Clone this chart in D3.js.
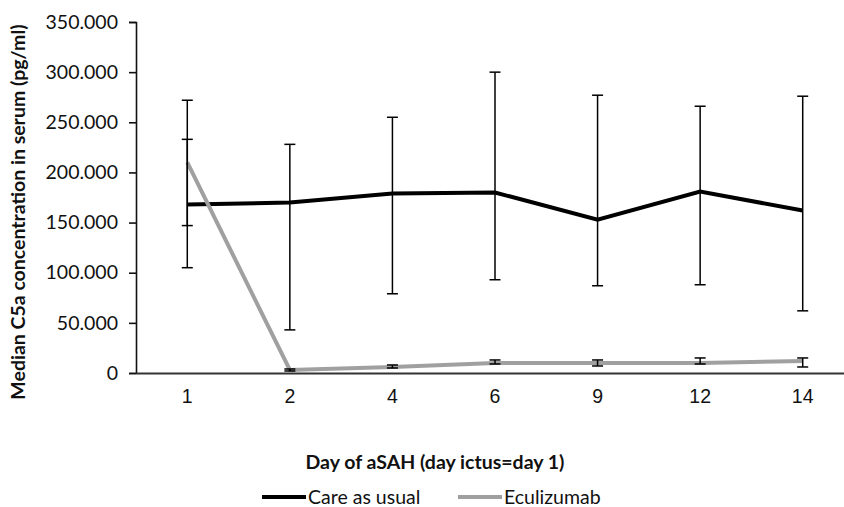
<!DOCTYPE html>
<html>
<head>
<meta charset="utf-8">
<script src="https://cdn.jsdelivr.net/npm/d3@7"></script>
<style>
  body { margin: 0; background: #fff; }
  svg { display: block; font-family: Lato, "Open Sans", sans-serif; }
</style>
</head>
<body>
<div id="chart"></div>
<script>
// data (pg/ml, thousands shown with "." separator)
const days = ["1", "2", "4", "6", "9", "12", "14"];
const careMedian = [168, 170, 179, 180, 153, 181, 162];
const careLow    = [105, 43, 79, 93, 87, 88, 62];
const careHigh   = [272, 228, 255, 300, 277, 266, 276];
const ecuMedian  = [210, 3, 6, 10, 10, 10, 12];
const ecuLow     = [147, 2, 5, 9, 7, 9, 6];
const ecuHigh    = [233, 4, 8, 13, 13, 15, 15];
const yTicks = [0, 50, 100, 150, 200, 250, 300, 350];

const W = 844, H = 507;
const svg = d3.select("#chart").append("svg")
  .attr("width", W).attr("height", H);

const x = d3.scaleBand().domain(days).range([136, 854]).padding(0);
const cx = d => x(d) + x.bandwidth() / 2;
const y = d3.scaleLinear().domain([0, 350]).range([373, 22]);

const fmt = v => v === 0 ? "0" : d3.format(".3f")(v).replace(",", "");

// y axis
const yAxis = svg.append("g")
  .attr("transform", "translate(136,0)")
  .call(d3.axisLeft(y).tickValues(yTicks).tickFormat(fmt).tickSize(7).tickPadding(11));
yAxis.select(".domain").attr("stroke", "#111").attr("stroke-width", 1.6);
yAxis.selectAll(".tick line").attr("stroke", "#111").attr("stroke-width", 1.6);
yAxis.selectAll(".tick text")
  .attr("font-size", 19.5).attr("fill", "#111")
  .attr("font-family", "Lato, sans-serif");

// x axis
const xAxis = svg.append("g")
  .attr("transform", "translate(0,373)")
  .call(d3.axisBottom(x).tickSize(0).tickPadding(16));
xAxis.select(".domain").attr("stroke", "#333").attr("stroke-width", 2);
xAxis.selectAll(".tick text")
  .attr("font-size", 19.5).attr("fill", "#111");

// series
const series = [
  { name: "Care as usual", color: "#000", med: careMedian, lo: careLow, hi: careHigh },
  { name: "Eculizumab", color: "#a0a0a0", med: ecuMedian, lo: ecuLow, hi: ecuHigh }
];

const line = d3.line().x(d => cx(d.day)).y(d => y(d.v));

series.forEach(s => {
  const pts = days.map((d, i) => ({ day: d, v: s.med[i] }));
  svg.append("path")
    .datum(pts)
    .attr("d", line)
    .attr("fill", "none")
    .attr("stroke", s.color)
    .attr("stroke-width", 4)
    .attr("stroke-linejoin", "miter");
});

// error bars (black for both series)
series.forEach(s => {
  const eb = days.map((d, i) => ({ day: d, lo: s.lo[i], hi: s.hi[i] }));
  const g = svg.append("g").attr("stroke", "#000").attr("stroke-width", 1.5);
  g.selectAll(".stem").data(eb).enter().append("line")
    .attr("x1", d => cx(d.day)).attr("x2", d => cx(d.day))
    .attr("y1", d => y(d.lo)).attr("y2", d => y(d.hi));
  ["lo", "hi"].forEach(k => {
    g.selectAll(".cap-" + k).data(eb).enter().append("line")
      .attr("x1", d => cx(d.day) - 5.5).attr("x2", d => cx(d.day) + 5.5)
      .attr("y1", d => y(d[k])).attr("y2", d => y(d[k]));
  });
});

// axis titles
svg.append("text")
  .attr("transform", "translate(25,212) rotate(-90)")
  .attr("text-anchor", "middle")
  .attr("font-size", 19.5).attr("font-weight", "bold").attr("fill", "#111")
  .text("Median C5a concentration in serum (pg/ml)");

svg.append("text")
  .attr("x", 435).attr("y", 469)
  .attr("text-anchor", "middle")
  .attr("font-size", 19.5).attr("font-weight", "bold").attr("fill", "#111")
  .text("Day of aSAH (day ictus=day 1)");

// legend
const legendX = [262, 458];
series.forEach((s, i) => {
  const g = svg.append("g").attr("transform", `translate(${legendX[i]},497)`);
  g.append("line").attr("x1", 0).attr("x2", 44).attr("y1", 0).attr("y2", 0)
    .attr("stroke", s.color).attr("stroke-width", 4);
  g.append("text").attr("x", 46).attr("y", 7)
    .attr("font-size", 19.5).attr("fill", "#111")
    .text(s.name);
});
</script>
</body>
</html>
